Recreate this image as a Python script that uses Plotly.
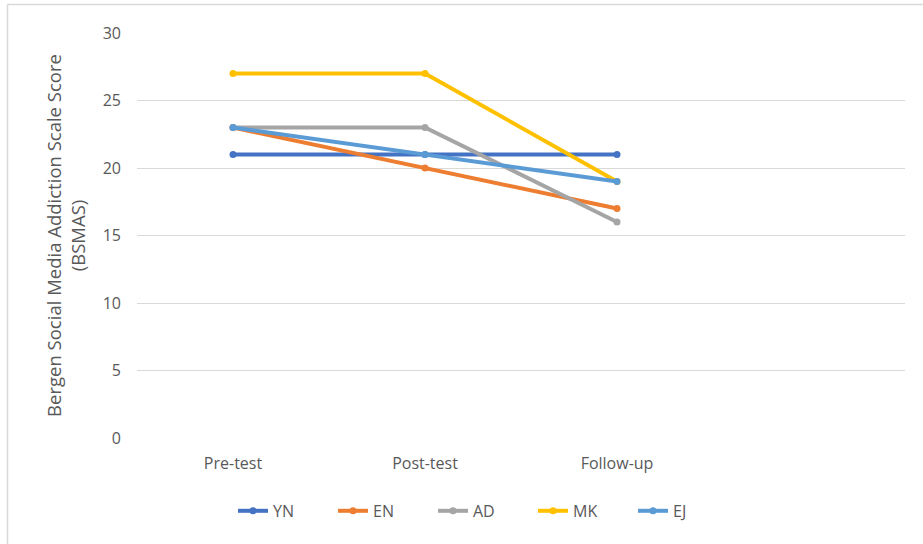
import plotly.graph_objects as go

# Assessment points (a fourth, empty slot keeps the category spacing)
phases = ["Pre-test", "Post-test", "Follow-up"]
slot_count = 4

# BSMAS scores per participant
participants = ["YN", "EN", "AD", "MK", "EJ"]
yn = [21, 21, 21]
en = [23, 20, 17]
ad = [23, 23, 16]
mk = [27, 27, 19]
ej = [23, 21, 19]

y_ticks = [0, 5, 10, 15, 20, 25, 30]

series = [yn, en, ad, mk, ej]
colors = ["#4472C4", "#ED7D31", "#A5A5A5", "#FFC000", "#5B9BD5"]

fig = go.Figure()
for name, vals, col in zip(participants, series, colors):
    fig.add_trace(go.Scatter(
        x=list(range(len(phases))),
        y=vals,
        name=name,
        mode="lines+markers",
        line=dict(color=col, width=4),
        marker=dict(color=col, size=7),
    ))

font_family = "'Open Sans', Lato, sans-serif"
text_color = "#595959"

fig.update_layout(
    width=923,
    height=544,
    margin=dict(l=137, r=18, t=33, b=106),
    paper_bgcolor="white",
    plot_bgcolor="white",
    font=dict(family=font_family, size=16, color=text_color),
    showlegend=True,
    legend=dict(
        orientation="h",
        x=(233 - 137) / 768,
        xanchor="left",
        y=-0.18,
        yanchor="middle",
        font=dict(size=16, color=text_color),
        entrywidth=55,
        entrywidthmode="pixels",
        itemwidth=30,
        bgcolor="rgba(0,0,0,0)",
    ),
    xaxis=dict(
        range=[-0.5, slot_count - 0.5],
        tickmode="array",
        tickvals=list(range(len(phases))),
        ticktext=phases,
        showgrid=False,
        zeroline=False,
        showline=False,
        ticks="",
        ticklabelstandoff=14,
        tickfont=dict(size=16, color=text_color),
        fixedrange=True,
    ),
    yaxis=dict(
        range=[0, 30],
        tickmode="array",
        tickvals=y_ticks,
        showgrid=True,
        gridcolor="#D9D9D9",
        gridwidth=1,
        zeroline=False,
        showline=False,
        ticks="",
        ticklabelstandoff=15,
        tickfont=dict(size=16, color=text_color),
        title=dict(
            text="Bergen Social Media Addiction Scale Score<br>(BSMAS)",
            font=dict(size=18.5, color=text_color),
            standoff=12,
        ),
        fixedrange=True,
    ),
    shapes=[
        # chart frame: top and left edges
        dict(type="line", xref="paper", yref="paper",
             x0=(7.5 - 137) / 768, x1=(923 - 137) / 768,
             y0=(438 - 4.5) / 405, y1=(438 - 4.5) / 405,
             line=dict(color="#D9D9D9", width=1.5)),
        dict(type="line", xref="paper", yref="paper",
             x0=(7.5 - 137) / 768, x1=(7.5 - 137) / 768,
             y0=(438 - 4.5) / 405, y1=(438 - 545) / 405,
             line=dict(color="#D9D9D9", width=1.5)),
    ],
)

fig.write_html("out.html")
